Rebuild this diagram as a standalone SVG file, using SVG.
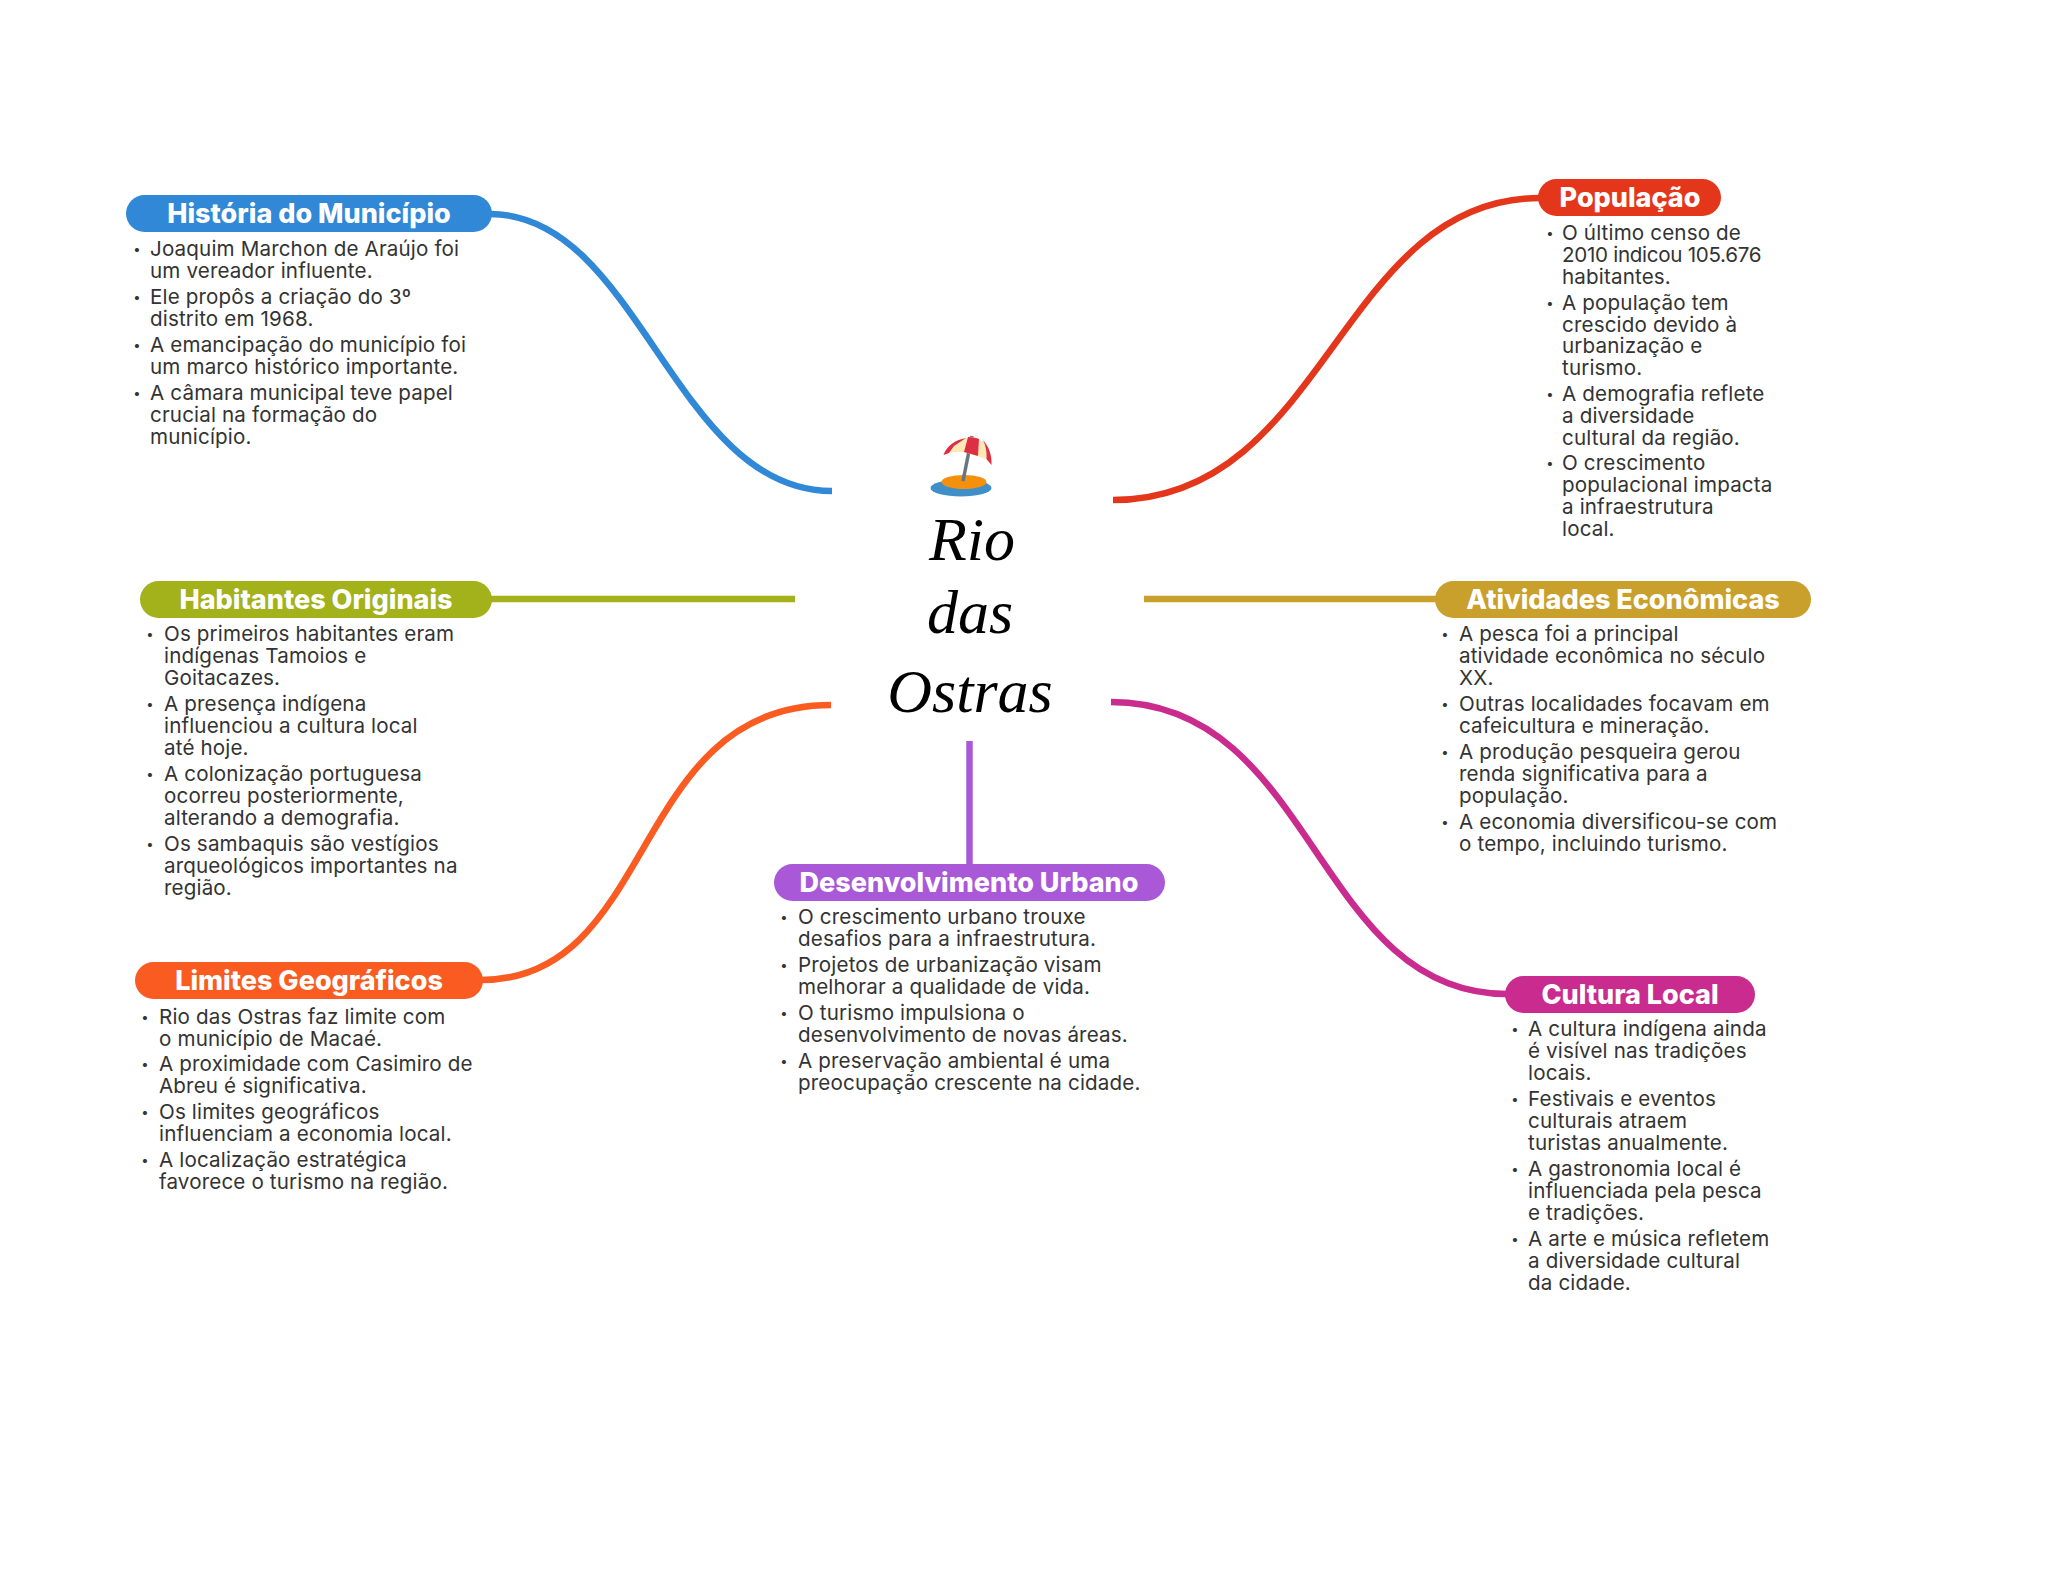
<svg xmlns="http://www.w3.org/2000/svg" width="2048" height="1569" viewBox="0 0 2048 1569">
<style>
.h{font:800 27px Inter,"Open Sans",sans-serif;fill:#fff;text-anchor:middle}
.b{font:400 20.600px Inter,"Open Sans",sans-serif;fill:#333;letter-spacing:.15px;transform:translateY(-.5px)}
.d{font:400 13px Inter,"Open Sans",sans-serif;fill:#333;text-anchor:middle;transform:translateY(-2px)}
.t{font:italic 400 62px "Liberation Serif",serif;fill:#000;text-anchor:middle}
.c{fill:none;stroke-width:6.500}
</style>
<rect width="2048" height="1569" fill="#fff"/>
<g id="connectors">
<path class="c" stroke="#3088d6" d="M490 214C639 214 674 491 832 491"/>
<path class="c" stroke="#e4361a" d="M1113 500C1327 500 1339 198 1540 198"/>
<path class="c" stroke="#a3b11b" d="M490 599H795"/>
<path class="c" stroke="#c9a02b" d="M1144 599H1437"/>
<path class="c" stroke="#fa5b21" d="M831 705C629 705 658 980 481 980"/>
<path class="c" stroke="#a958d8" d="M969.500 741V866"/>
<path class="c" stroke="#c92b8e" d="M1111 702C1315 702 1315 994 1507 994"/>
</g>
<g id="center">
<g id="emoji">
<ellipse cx="961" cy="488" rx="30.500" ry="8.500" fill="#3f8fc9"/>
<ellipse cx="964" cy="482" rx="22.500" ry="7" fill="#f4900c"/>
<path d="M972 436 L963 481" stroke="#66757f" stroke-width="3.500"/>
<path d="M943.500 455C948 445 958 438 972 437C985 439 992 450 991.500 465L986 459L977 456L964 452L954 452L947 453Z" fill="#ffe8b6"/>
<path d="M943.500 455C947 445 956 440 966 438L954 446L949 453ZM968 437C973 437 977 438 979 439L978 456L964 452Z" fill="#dd2e44"/>
<path d="M983 440C989 447 992 455 991.500 465L986.500 459C987 452 986 446 983 440Z" fill="#dd2e44"/>
</g>
<text class="t" x="972" y="560">Rio</text>
<text class="t" x="970" y="633">das</text>
<text class="t" x="970" y="712">Ostras</text>
</g>
<g id="historia">
<rect x="126" y="195" width="366" height="37" rx="18.500" fill="#3088d6"/>
<text class="h" x="309" y="223">História do Município</text>
<text class="d" x="137" y="256">•</text><text class="b" x="150" y="256">Joaquim Marchon de Araújo foi</text>
<text class="b" x="150" y="278">um vereador influente.</text>
<text class="d" x="137" y="304">•</text><text class="b" x="150" y="304">Ele propôs a criação do 3º</text>
<text class="b" x="150" y="326">distrito em 1968.</text>
<text class="d" x="137" y="352">•</text><text class="b" x="150" y="352">A emancipação do município foi</text>
<text class="b" x="150" y="374">um marco histórico importante.</text>
<text class="d" x="137" y="400">•</text><text class="b" x="150" y="400">A câmara municipal teve papel</text>
<text class="b" x="150" y="422">crucial na formação do</text>
<text class="b" x="150" y="444">município.</text>
</g>
<g id="populacao">
<rect x="1538" y="179" width="183" height="37" rx="18.500" fill="#e4361a"/>
<text class="h" x="1630" y="207">População</text>
<text class="d" x="1550" y="240">•</text><text class="b" x="1562" y="240">O último censo de</text>
<text class="b" x="1562" y="262" style="letter-spacing:-.3px">2010 indicou 105.676</text>
<text class="b" x="1562" y="284">habitantes.</text>
<text class="d" x="1550" y="310">•</text><text class="b" x="1562" y="310">A população tem</text>
<text class="b" x="1562" y="332">crescido devido à</text>
<text class="b" x="1562" y="353">urbanização e</text>
<text class="b" x="1562" y="375">turismo.</text>
<text class="d" x="1550" y="401">•</text><text class="b" x="1562" y="401">A demografia reflete</text>
<text class="b" x="1562" y="423">a diversidade</text>
<text class="b" x="1562" y="445">cultural da região.</text>
<text class="d" x="1550" y="470">•</text><text class="b" x="1562" y="470">O crescimento</text>
<text class="b" x="1562" y="492">populacional impacta</text>
<text class="b" x="1562" y="514">a infraestrutura</text>
<text class="b" x="1562" y="536">local.</text>
</g>
<g id="habitantes">
<rect x="140" y="581" width="352" height="37" rx="18.500" fill="#a3b11b"/>
<text class="h" x="316" y="609">Habitantes Originais</text>
<text class="d" x="150" y="641">•</text><text class="b" x="164" y="641">Os primeiros habitantes eram</text>
<text class="b" x="164" y="663">indígenas Tamoios e</text>
<text class="b" x="164" y="685">Goitacazes.</text>
<text class="d" x="150" y="711">•</text><text class="b" x="164" y="711">A presença indígena</text>
<text class="b" x="164" y="733">influenciou a cultura local</text>
<text class="b" x="164" y="755">até hoje.</text>
<text class="d" x="150" y="781">•</text><text class="b" x="164" y="781">A colonização portuguesa</text>
<text class="b" x="164" y="803">ocorreu posteriormente,</text>
<text class="b" x="164" y="825">alterando a demografia.</text>
<text class="d" x="150" y="851">•</text><text class="b" x="164" y="851">Os sambaquis são vestígios</text>
<text class="b" x="164" y="873">arqueológicos importantes na</text>
<text class="b" x="164" y="895">região.</text>
</g>
<g id="atividades">
<rect x="1435" y="581" width="376" height="37" rx="18.500" fill="#c9a02b"/>
<text class="h" x="1623" y="609">Atividades Econômicas</text>
<text class="d" x="1445" y="641">•</text><text class="b" x="1459" y="641">A pesca foi a principal</text>
<text class="b" x="1459" y="663">atividade econômica no século</text>
<text class="b" x="1459" y="685">XX.</text>
<text class="d" x="1445" y="711">•</text><text class="b" x="1459" y="711">Outras localidades focavam em</text>
<text class="b" x="1459" y="733">cafeicultura e mineração.</text>
<text class="d" x="1445" y="759">•</text><text class="b" x="1459" y="759">A produção pesqueira gerou</text>
<text class="b" x="1459" y="781">renda significativa para a</text>
<text class="b" x="1459" y="803">população.</text>
<text class="d" x="1445" y="829">•</text><text class="b" x="1459" y="829">A economia diversificou-se com</text>
<text class="b" x="1459" y="851">o tempo, incluindo turismo.</text>
</g>
<g id="limites">
<rect x="135" y="962" width="348" height="37" rx="18.500" fill="#fa5b21"/>
<text class="h" x="309" y="990">Limites Geográficos</text>
<text class="d" x="145" y="1024">•</text><text class="b" x="159" y="1024">Rio das Ostras faz limite com</text>
<text class="b" x="159" y="1046">o município de Macaé.</text>
<text class="d" x="145" y="1071">•</text><text class="b" x="159" y="1071">A proximidade com Casimiro de</text>
<text class="b" x="159" y="1093">Abreu é significativa.</text>
<text class="d" x="145" y="1119">•</text><text class="b" x="159" y="1119">Os limites geográficos</text>
<text class="b" x="159" y="1141">influenciam a economia local.</text>
<text class="d" x="145" y="1167">•</text><text class="b" x="159" y="1167">A localização estratégica</text>
<text class="b" x="159" y="1189">favorece o turismo na região.</text>
</g>
<g id="desenvolvimento">
<rect x="774" y="864" width="391" height="37" rx="18.500" fill="#a958d8"/>
<text class="h" x="969" y="892">Desenvolvimento Urbano</text>
<text class="d" x="784" y="924">•</text><text class="b" x="798" y="924">O crescimento urbano trouxe</text>
<text class="b" x="798" y="946">desafios para a infraestrutura.</text>
<text class="d" x="784" y="972">•</text><text class="b" x="798" y="972">Projetos de urbanização visam</text>
<text class="b" x="798" y="994">melhorar a qualidade de vida.</text>
<text class="d" x="784" y="1020">•</text><text class="b" x="798" y="1020">O turismo impulsiona o</text>
<text class="b" x="798" y="1042">desenvolvimento de novas áreas.</text>
<text class="d" x="784" y="1068">•</text><text class="b" x="798" y="1068">A preservação ambiental é uma</text>
<text class="b" x="798" y="1090">preocupação crescente na cidade.</text>
</g>
<g id="cultura">
<rect x="1505" y="976" width="250" height="37" rx="18.500" fill="#c92b8e"/>
<text class="h" x="1630" y="1004">Cultura Local</text>
<text class="d" x="1515" y="1036">•</text><text class="b" x="1528" y="1036">A cultura indígena ainda</text>
<text class="b" x="1528" y="1058">é visível nas tradições</text>
<text class="b" x="1528" y="1080">locais.</text>
<text class="d" x="1515" y="1106">•</text><text class="b" x="1528" y="1106">Festivais e eventos</text>
<text class="b" x="1528" y="1128">culturais atraem</text>
<text class="b" x="1528" y="1150">turistas anualmente.</text>
<text class="d" x="1515" y="1176">•</text><text class="b" x="1528" y="1176">A gastronomia local é</text>
<text class="b" x="1528" y="1198">influenciada pela pesca</text>
<text class="b" x="1528" y="1220">e tradições.</text>
<text class="d" x="1515" y="1246">•</text><text class="b" x="1528" y="1246">A arte e música refletem</text>
<text class="b" x="1528" y="1268">a diversidade cultural</text>
<text class="b" x="1528" y="1290">da cidade.</text>
</g>
</svg>
